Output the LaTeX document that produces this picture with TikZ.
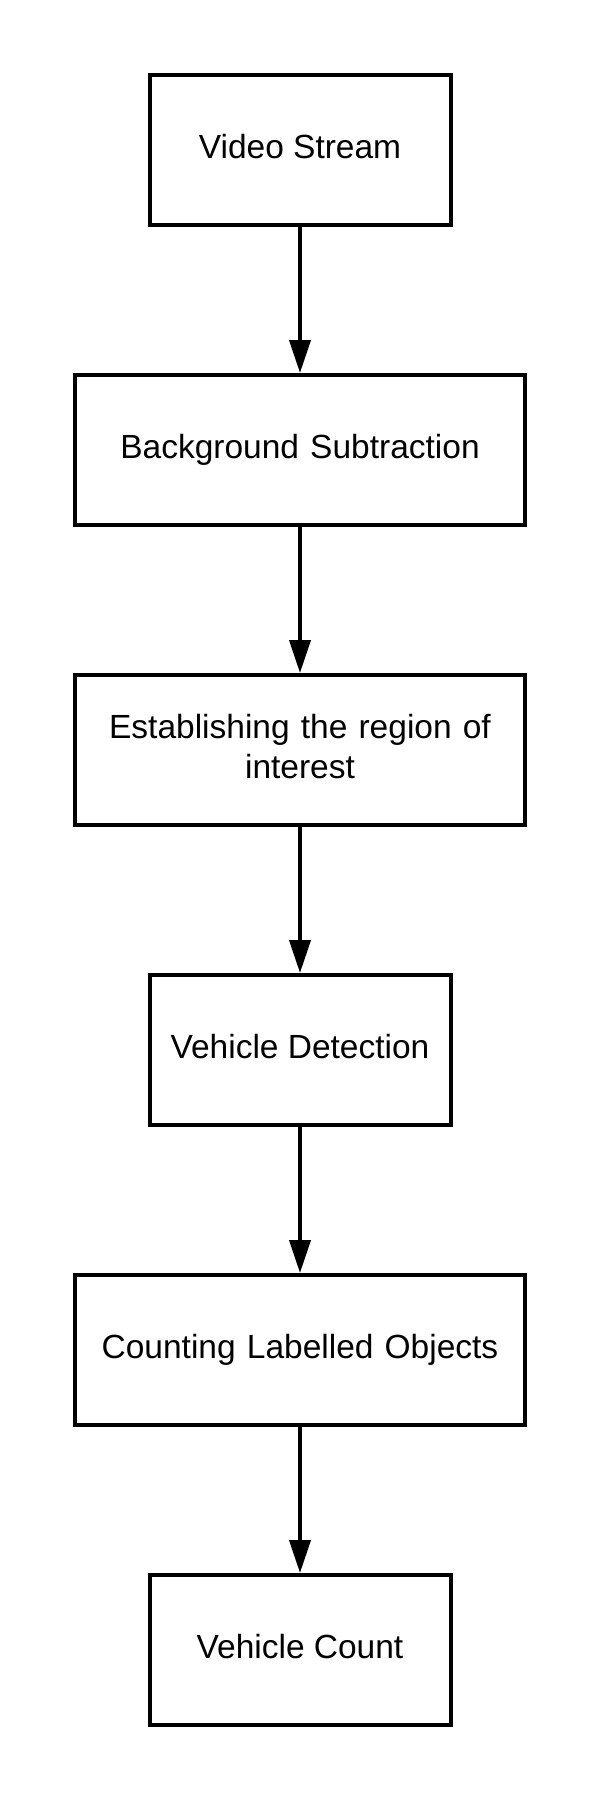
\documentclass[tikz,border=0pt]{standalone}
\usepackage{fontspec}
\setmainfont{Liberation Sans}
\usetikzlibrary{positioning, arrows.meta}

\tikzset{
    stage/.style={draw, line width=4pt, minimum height=150pt, align=center,
        text height=25pt, text depth=8pt, font=\fontsize{33.5}{40}\selectfont},
    narrow/.style={stage, minimum width=301pt},
    wide/.style={stage, minimum width=450pt, text width=410pt},
    flow/.style={line width=4pt, -{Triangle[width=21pt, length=33pt]}}
}

\begin{document}
\begin{tikzpicture}
    % Fix the page size (600 x 1800)
    \useasboundingbox (0,0) rectangle (600pt,-1800pt);

    % Define the stages of the pipeline
    \node[narrow] (video) at (300pt,-150pt) {Video Stream};
    \node[wide, below=146pt of video] (bgsub) {Background Subtraction};
    \node[wide, below=146pt of bgsub, text depth=48pt] (roi) {Establishing the region of\\interest};
    \node[narrow, below=146pt of roi] (detect) {Vehicle Detection};
    \node[wide, below=146pt of detect] (count) {Counting Labelled Objects};
    \node[narrow, below=146pt of count] (result) {Vehicle Count};

    % Draw the arrows between the stages
    \draw[flow] (video) -- (bgsub);
    \draw[flow] (bgsub) -- (roi);
    \draw[flow] (roi) -- (detect);
    \draw[flow] (detect) -- (count);
    \draw[flow] (count) -- (result);
\end{tikzpicture}
\end{document}
